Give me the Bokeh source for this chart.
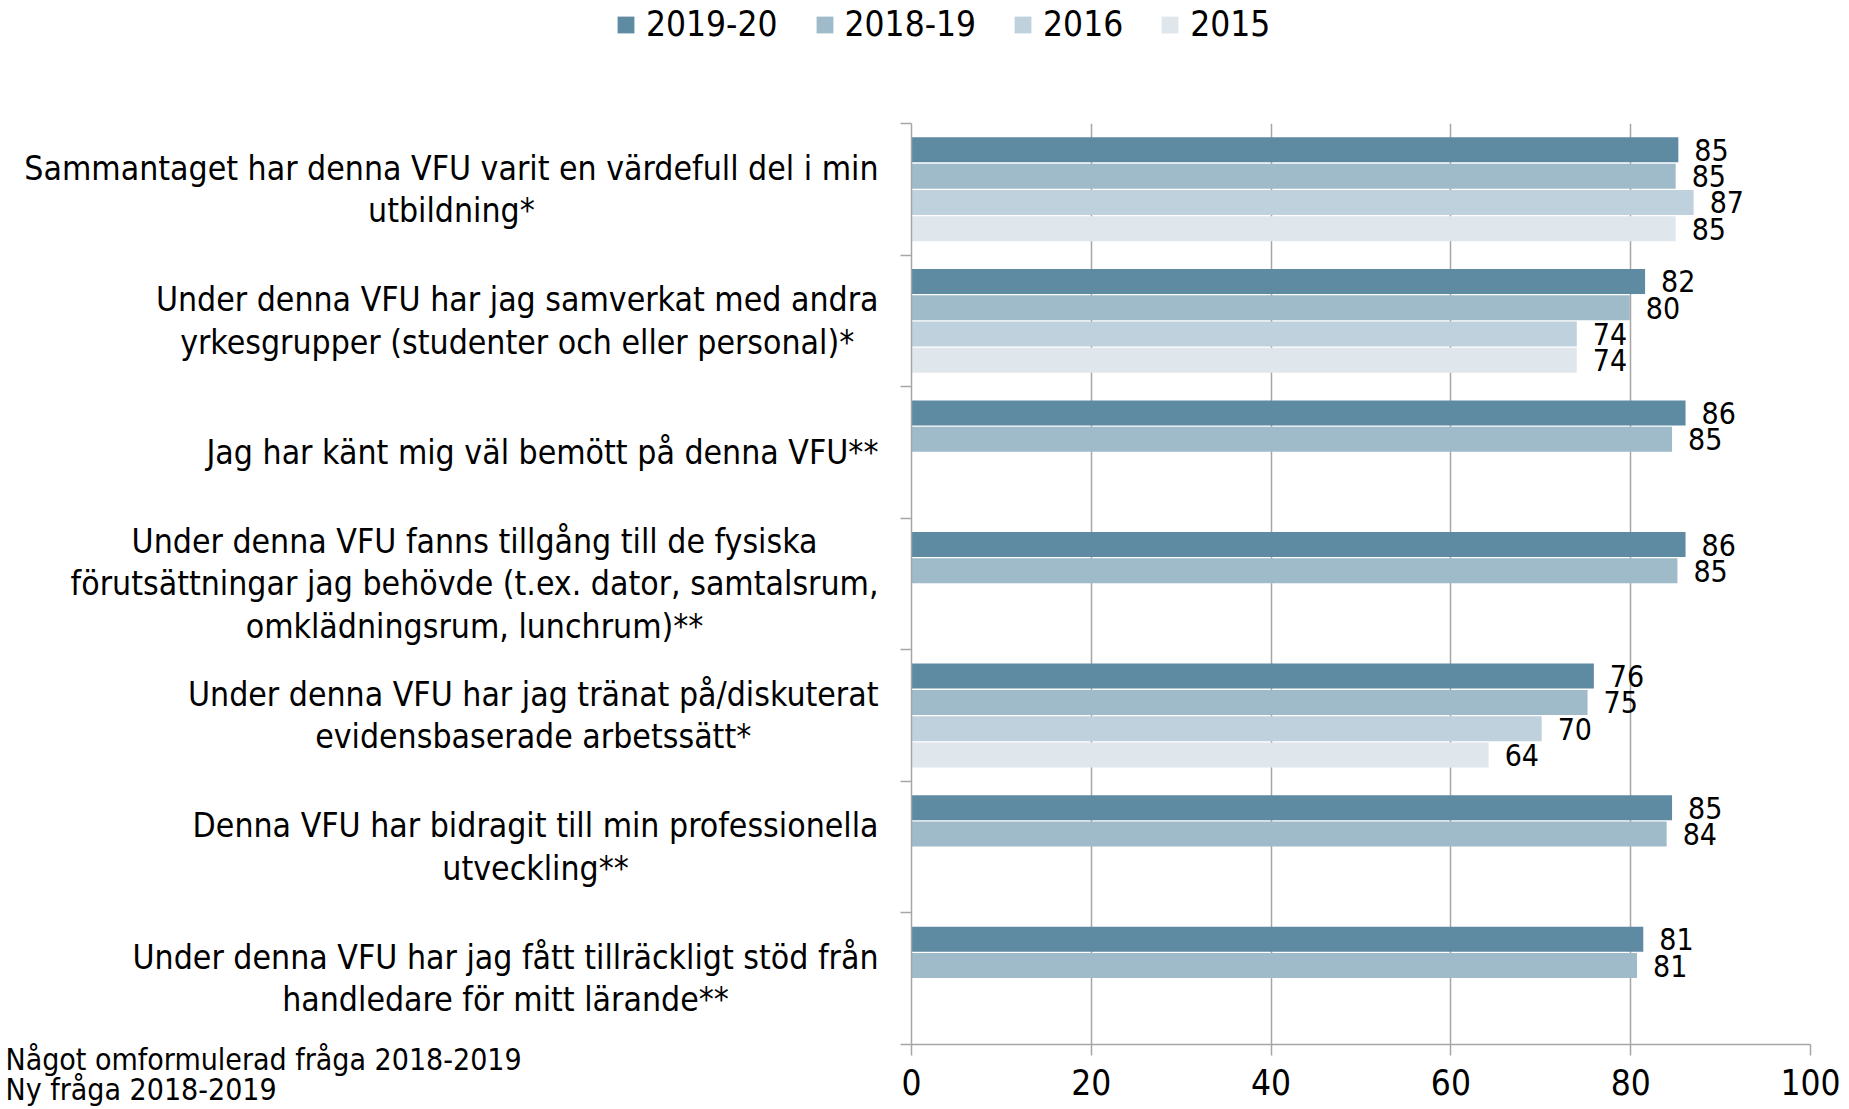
from bokeh.plotting import figure
from bokeh.layouts import column, row
from bokeh.models import (ColumnDataSource, Range1d, LinearAxis, FixedTicker,
                          Legend, LegendItem, Label)
from bokeh.embed import file_html
from bokeh.resources import INLINE

FONT = "DejaVu Sans Condensed"

categories = [
    "Sammantaget har denna VFU varit en värdefull del i min\nutbildning*",
    "Under denna VFU har jag samverkat med andra\nyrkesgrupper (studenter och eller personal)*",
    "Jag har känt mig väl bemött på denna VFU**",
    "Under denna VFU fanns tillgång till de fysiska\nförutsättningar jag behövde (t.ex. dator, samtalsrum,\nomklädningsrum, lunchrum)**",
    "Under denna VFU har jag tränat på/diskuterat\nevidensbaserade arbetssätt*",
    "Denna VFU har bidragit till min professionella\nutveckling**",
    "Under denna VFU har jag fått tillräckligt stöd från\nhandledare för mitt lärande**",
]
series_names = ["2019-20", "2018-19", "2016", "2015"]
v_2019_20 = [85.3, 81.6, 86.1, 86.1, 75.9, 84.6, 81.4]
v_2018_19 = [85.0, 79.9, 84.6, 85.2, 75.2, 84.0, 80.7]
v_2016 = [87.0, 74.0, None, None, 70.1, None, None]
v_2015 = [85.0, 74.0, None, None, 64.2, None, None]
series_values = [v_2019_20, v_2018_19, v_2016, v_2015]
colors = ["#5e8aa2", "#9fbac8", "#bfd1dc", "#dfe7ed"]
x_ticks = [0, 20, 40, 60, 80, 100]
footnotes = ["Något omformulerad fråga 2018-2019", "Ny fråga 2018-2019"]

# ---- layout constants (pixels) ----
W, H = 1849, 1109
LEG_H = 54                 # strip holding the legend
LEFT_W = 880               # strip holding the category texts
MAIN_W = W - LEFT_W
BODY_H = H - LEG_H
FRAME_L, FRAME_R = 31, 39
FRAME_T, FRAME_B = 69, 65
n = len(categories)
px_per_cat = (BODY_H - FRAME_T - FRAME_B) / n

grey = "#a6a6a6"

# ---- main chart ----
p = figure(width=MAIN_W, height=BODY_H, output_backend="svg", toolbar_location=None,
           x_range=Range1d(0, 100), y_range=Range1d(n, 0),
           min_border_left=FRAME_L, min_border_right=FRAME_R,
           min_border_top=FRAME_T, min_border_bottom=FRAME_B,
           x_axis_location=None, y_axis_location=None, frame_align=False)
p.outline_line_color = None
p.border_fill_color = "white"

xaxis = LinearAxis(ticker=FixedTicker(ticks=x_ticks))
xaxis.axis_line_color = grey
xaxis.axis_line_width = 1.5
xaxis.major_tick_line_color = grey
xaxis.major_tick_line_width = 1.5
xaxis.major_tick_out = 11
xaxis.major_tick_in = 0
xaxis.minor_tick_line_color = None
xaxis.major_label_text_font = FONT
xaxis.major_label_text_font_size = "35px"
xaxis.major_label_text_color = "black"
xaxis.major_label_standoff = 13
p.add_layout(xaxis, "below")

yaxis = LinearAxis(ticker=FixedTicker(ticks=list(range(n + 1))))
yaxis.axis_line_color = grey
yaxis.axis_line_width = 1.5
yaxis.major_tick_line_color = grey
yaxis.major_tick_line_width = 1.5
yaxis.major_tick_out = 11
yaxis.major_tick_in = 0
yaxis.minor_tick_line_color = None
yaxis.major_label_overrides = {i: "" for i in range(n + 1)}
yaxis.major_label_text_font_size = "1px"
p.add_layout(yaxis, "left")

p.xgrid.ticker = FixedTicker(ticks=x_ticks)
p.xgrid.grid_line_color = grey
p.xgrid.grid_line_width = 1.5
p.ygrid.grid_line_color = None

for s, (vals, col) in enumerate(zip(series_values, colors)):
    ys, xs, labs = [], [], []
    for i, v in enumerate(vals):
        if v is None:
            continue
        ys.append(i + 0.2 + 0.2 * s)
        xs.append(v)
        labs.append(str(int(round(v))))
    src = ColumnDataSource(dict(y=ys, right=xs, lab=labs))
    p.hbar(y="y", left=0, right="right", height=0.19, source=src,
           fill_color=col, line_color=None)
    p.text(x="right", y="y", text="lab", source=src, x_offset=16,
           text_align="left", text_baseline="middle", text_font_size="30px",
           text_color="black", text_font={"value": FONT})

# ---- left strip: category texts and footnotes, same vertical scale ----
q = figure(width=LEFT_W, height=BODY_H, output_backend="svg", toolbar_location=None,
           x_range=Range1d(0, LEFT_W),
           y_range=Range1d(n + FRAME_B / px_per_cat, -FRAME_T / px_per_cat),
           min_border=0, x_axis_location=None, y_axis_location=None,
           frame_align=False)
q.outline_line_color = None
q.grid.grid_line_color = None
q.border_fill_color = "white"

for i, cat in enumerate(categories):
    q.add_layout(Label(x=LEFT_W, y=i + 0.5, x_offset=-2, text=cat,
                       anchor="center_right", text_align="center",
                       text_baseline="middle", text_font=FONT,
                       text_font_size="33.5px", text_line_height=1.09,
                       text_color="black"))
for k, note in enumerate(footnotes):
    q.add_layout(Label(x=0, y=n, x_offset=5, y_offset=-15 - 30 * k, text=note,
                       text_align="left", text_baseline="middle", text_font=FONT,
                       text_font_size="30px", text_color="black"))

# ---- legend strip (its swatch renderers hold no visible bars) ----
lg = figure(width=W, height=LEG_H, output_backend="svg", toolbar_location=None,
            x_range=Range1d(0, 1), y_range=Range1d(0, 1), min_border=0,
            x_axis_location=None, y_axis_location=None, frame_align=False)
lg.outline_line_color = None
lg.grid.grid_line_color = None
lg.background_fill_color = "white"
lg.border_fill_color = "white"
items = []
for name, col in zip(series_names, colors):
    r = lg.hbar(y=[10], left=[10], right=[11], height=0.5, fill_color=col,
                line_color=None)
    items.append(LegendItem(label=name, renderers=[r]))
legend = Legend(items=items, orientation="horizontal", location=(615, 10),
                glyph_width=21, glyph_height=21, label_standoff=10, spacing=36,
                padding=0, margin=0, border_line_color=None,
                background_fill_alpha=0, label_text_font=FONT,
                label_text_font_size="35px", label_text_color="black")
lg.add_layout(legend, "center")

layout = column(lg, row(q, p))
open("out.html", "w").write(file_html(layout, INLINE))
